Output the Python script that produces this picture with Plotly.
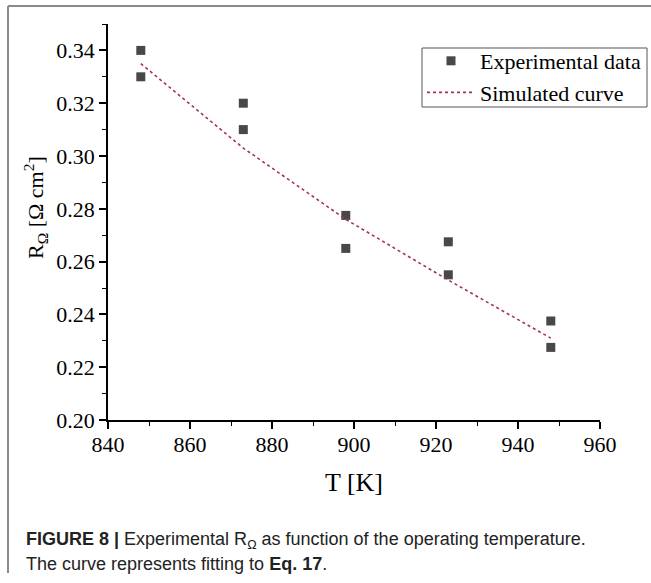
import plotly.graph_objects as go

# ---- data ----
temp_exp = [848, 848, 873, 873, 898, 898, 923, 923, 948, 948]
r_exp = [0.340, 0.330, 0.320, 0.310, 0.2775, 0.265, 0.2675, 0.255, 0.2375, 0.2275]
temp_sim = [848, 873, 898, 923, 948]
r_sim = [0.335, 0.303, 0.276, 0.253, 0.231]

x_range = [840, 960]
y_range = [0.20, 0.35]
x_dtick, y_dtick = 20, 0.02

W, H = 651, 583
L, R, T, B = 108, 51, 24, 163
pw, ph = W - L - R, H - T - B

def px(x):
    return (x - L) / pw

def py(y):
    return (H - B - y) / ph

serif = "Liberation Serif"
sans = "Liberation Sans"

fig = go.Figure()
fig.add_trace(go.Scatter(
    x=temp_exp, y=r_exp, mode="markers", name="Experimental data",
    marker=dict(symbol="square", size=9, color="#484848", line=dict(width=0)),
))
fig.add_trace(go.Scatter(
    x=temp_sim, y=r_sim, mode="lines", name="Simulated curve",
    line=dict(color="#a3364a", width=1.6, dash="dot"),
))

annotations = [
    dict(text="T [K]", x=0.5, y=py(482), xref="paper", yref="paper",
         showarrow=False, xanchor="center", yanchor="middle",
         font=dict(family=serif, size=26, color="black")),
    dict(text="R<sub>Ω</sub> [Ω cm<sup>2</sup>]", x=px(35), y=py(208), xref="paper", yref="paper",
         showarrow=False, xanchor="center", yanchor="middle", textangle=-90,
         font=dict(family=serif, size=22, color="black")),
    dict(text="<b>FIGURE 8 |</b> Experimental R<sub>Ω</sub> as function of the operating temperature.",
         x=px(24), y=py(540), xref="paper", yref="paper", showarrow=False,
         xanchor="left", yanchor="middle", align="left",
         font=dict(family=sans, size=18, color="#222222")),
    dict(text="The curve represents fitting to <b>Eq. 17</b>.",
         x=px(24), y=py(564), xref="paper", yref="paper", showarrow=False,
         xanchor="left", yanchor="middle", align="left",
         font=dict(family=sans, size=18, color="#222222")),
]

shapes = [
    dict(type="line", xref="paper", yref="paper", x0=px(8), x1=px(660), y0=py(6), y1=py(6),
         line=dict(color="#8a8a8a", width=2)),
    dict(type="line", xref="paper", yref="paper", x0=px(8), x1=px(8), y0=py(6), y1=py(573),
         line=dict(color="#8a8a8a", width=2)),
    dict(type="rect", xref="paper", yref="paper", x0=px(422), x1=px(647), y0=py(48), y1=py(107),
         line=dict(color="#555555", width=1)),
]

fig.update_layout(
    width=W, height=H,
    template="none",
    font=dict(family=serif, size=22, color="black"),
    margin=dict(l=L, r=R, t=T, b=B, autoexpand=False),
    paper_bgcolor="white", plot_bgcolor="white",
    showlegend=True,
    legend=dict(x=px(422), y=py(40), xanchor="left", yanchor="top",
                borderwidth=0, bgcolor="rgba(0,0,0,0)",
                font=dict(family=serif, size=22, color="black"),
                itemwidth=48, tracegroupgap=0),
    annotations=annotations, shapes=shapes,
)
fig.update_xaxes(range=x_range, tick0=840, dtick=x_dtick,
                 showgrid=False, zeroline=False, showline=True, linecolor="black", linewidth=1.5,
                 ticks="outside", ticklen=7, tickwidth=1.5, tickcolor="black",
                 tickfont_family=serif, tickfont_size=22, tickfont_color="black",
                 ticklabelstandoff=-3,
                 minor=dict(dtick=10, ticks="outside", ticklen=4, tickwidth=1.3, tickcolor="black"))
fig.update_yaxes(range=y_range, tick0=0.20, dtick=y_dtick, tickformat=".2f",
                 showgrid=False, zeroline=False, showline=True, linecolor="black", linewidth=1.5,
                 ticks="outside", ticklen=7, tickwidth=1.5, tickcolor="black",
                 tickfont_family=serif, tickfont_size=22, tickfont_color="black",
                 minor=dict(dtick=0.01, ticks="outside", ticklen=4, tickwidth=1.3, tickcolor="black"))

fig.write_html("out.html")
